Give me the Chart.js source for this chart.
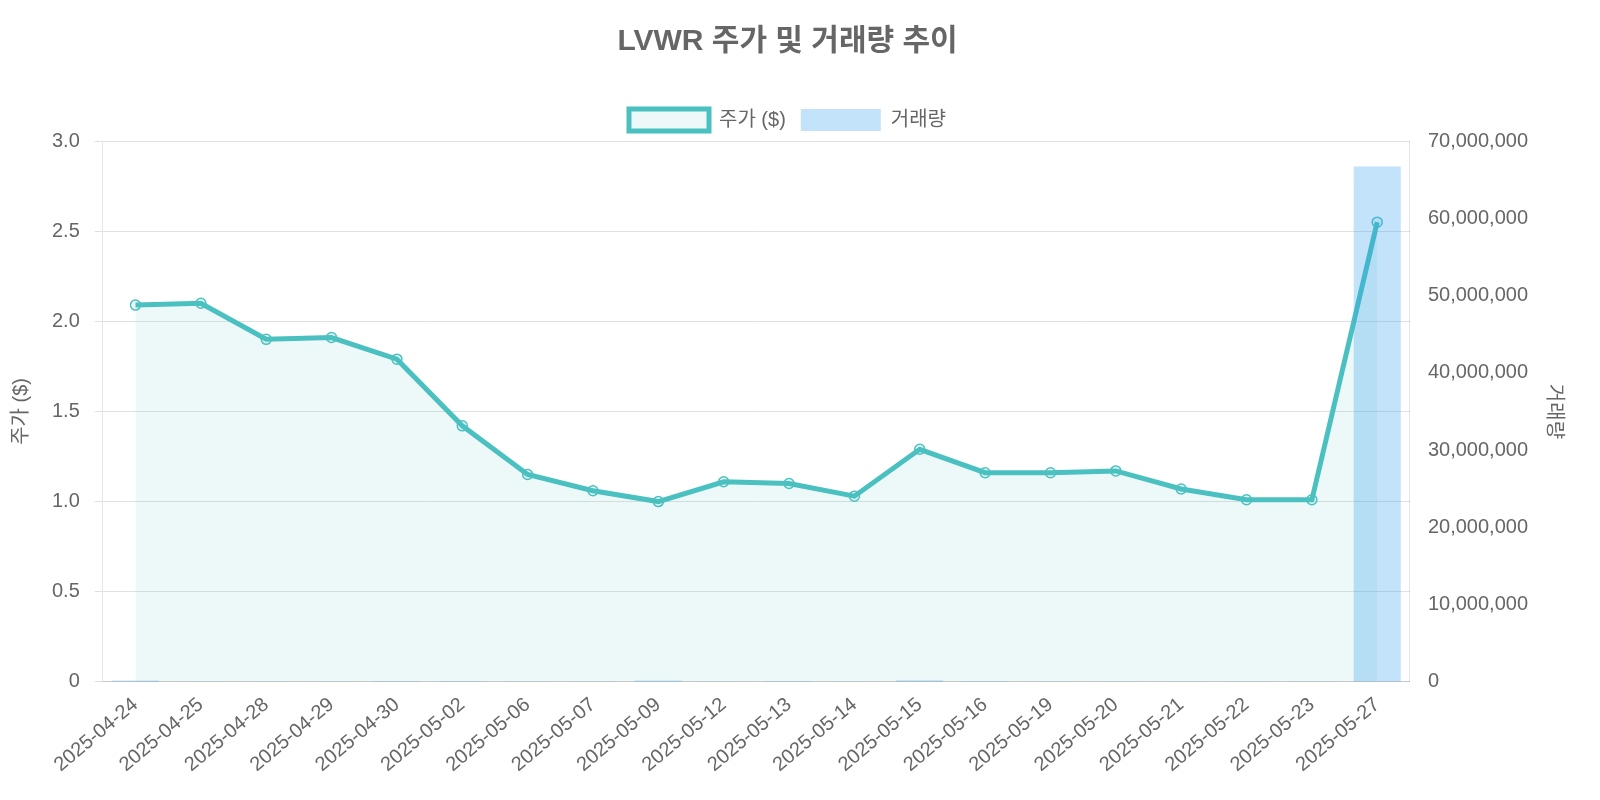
<!DOCTYPE html>
<html>
<head>
<meta charset="utf-8">
<script src="https://cdn.jsdelivr.net/npm/chart.js@4"></script>
<style>
  body { margin: 0; background: #fff; }
  #wrap { width: 1600px; height: 800px; }
</style>
</head>
<body>
<div id="wrap"><canvas id="chart"></canvas></div>
<script>
// Data
const dates = [
  "2025-04-24", "2025-04-25", "2025-04-28", "2025-04-29", "2025-04-30",
  "2025-05-02", "2025-05-06", "2025-05-07", "2025-05-09", "2025-05-12",
  "2025-05-13", "2025-05-14", "2025-05-15", "2025-05-16", "2025-05-19",
  "2025-05-20", "2025-05-21", "2025-05-22", "2025-05-23", "2025-05-27",
];
const prices = [2.09, 2.1, 1.9, 1.91, 1.79, 1.42, 1.15, 1.06, 1.0, 1.11,
  1.1, 1.03, 1.29, 1.16, 1.16, 1.17, 1.07, 1.01, 1.01, 2.55];
const volumes = [180000, 60000, 50000, 40000, 90000, 70000, 60000, 50000, 190000, 60000,
  80000, 50000, 200000, 90000, 60000, 40000, 50000, 40000, 60000, 66700000];

Chart.defaults.font.family = "'Liberation Sans', Arial, 'Noto Sans CJK KR', sans-serif";
Chart.defaults.color = "#666";

const ctx = document.getElementById("chart").getContext("2d");
new Chart(ctx, {
  type: "bar",
  data: {
    labels: dates,
    datasets: [
      {
        type: "line",
        label: "주가 ($)",
        data: prices,
        yAxisID: "y",
        borderColor: "#4bc0c0",
        backgroundColor: "rgba(75,192,192,0.1)",
        borderWidth: 5,
        fill: true,
        tension: 0,
        pointRadius: 5,
        pointBorderWidth: 1.5,
        pointBackgroundColor: "rgba(75,192,192,0.1)",
        pointBorderColor: "#4bc0c0",
        order: 2,
      },
      {
        label: "거래량",
        data: volumes,
        yAxisID: "y1",
        backgroundColor: "rgba(54,162,235,0.3)",
        order: 1,
      },
    ],
  },
  options: {
    responsive: true,
    maintainAspectRatio: false,
    animation: false,
    layout: { padding: { left: 5, right: 30, bottom: 20, top: 6 } },
    plugins: {
      title: {
        display: true,
        text: "LVWR 주가 및 거래량 추이",
        font: { size: 30, weight: "bold" },
        padding: { top: 18, bottom: 34 },
      },
      legend: {
        labels: {
          font: { size: 20 }, boxWidth: 80, boxHeight: 22, padding: 15,
          sort: (a, b) => a.datasetIndex - b.datasetIndex,
        },
      },
    },
    scales: {
      x: {
        grid: { display: false },
        ticks: { font: { size: 20 }, maxRotation: 40, minRotation: 40 },
      },
      y: {
        position: "left",
        min: 0,
        max: 3,
        ticks: { stepSize: 0.5, font: { size: 20 }, padding: 15 },
        title: { display: true, text: "주가 ($)", font: { size: 20 } },
        grid: { color: "#e0e0e0" },
      },
      y1: {
        position: "right",
        min: 0,
        max: 70000000,
        ticks: {
          stepSize: 10000000,
          font: { size: 20 },
          padding: 10,
          callback: function (value) {
            return value.toLocaleString("en-US");
          },
        },
        title: { display: true, text: "거래량", font: { size: 20 } },
        grid: { display: false },
      },
    },
  },
});
</script>
</body>
</html>
